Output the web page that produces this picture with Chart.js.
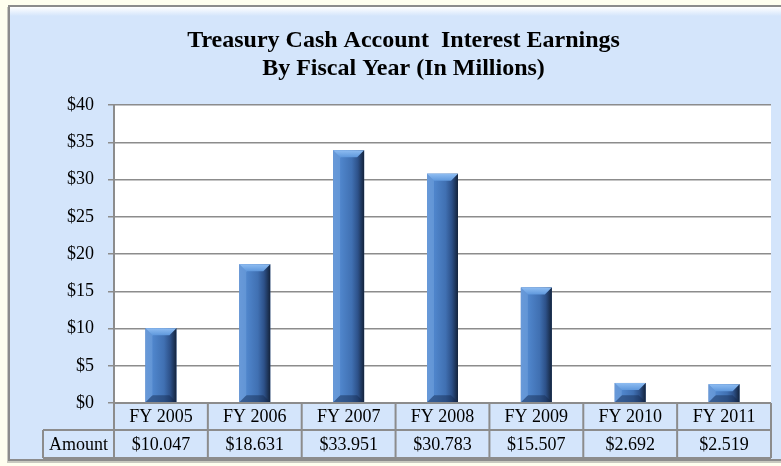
<!DOCTYPE html>
<html>
<head>
<meta charset="utf-8">
<script src="https://cdn.jsdelivr.net/npm/chart.js@4.4.0/dist/chart.umd.min.js"></script>
<style>
  html, body { margin: 0; padding: 0; background: #FFFFEF; }
  #wrap { width: 781px; height: 466px; }
</style>
</head>
<body>
<div id="wrap">
  <canvas id="myChart" width="781" height="466"></canvas>
</div>
<script>
// data
const years = ['FY 2005', 'FY 2006', 'FY 2007', 'FY 2008', 'FY 2009', 'FY 2010', 'FY 2011'];
const amounts = [10.047, 18.631, 33.951, 30.783, 15.507, 2.692, 2.519];
const rowLabel = 'Amount';
const titleLines = ['Treasury Cash Account  Interest Earnings', 'By Fiscal Year (In Millions)'];

const SERIF = "'Liberation Serif', 'Times New Roman', serif";
const FRAME_BLUE = '#D4E5FB';
const LINE_GRAY = '#8c8c8c';

// background, frame and white plot area
const framePlugin = {
    id: 'frame',
    beforeDraw(chart) {
        const ctx = chart.ctx;
        const a = chart.chartArea;
        ctx.save();
        ctx.fillStyle = '#FFFFEF';
        ctx.fillRect(0, 0, chart.width, chart.height);
        // soft shadow
        ctx.fillStyle = '#c9c9c0';
        ctx.fillRect(7, 7, chart.width, 456);
        // frame
        ctx.fillStyle = FRAME_BLUE;
        ctx.fillRect(9, 6, chart.width, 454);
        const hl = ctx.createLinearGradient(0, 7, 0, 16);
        hl.addColorStop(0, '#ffffff');
        hl.addColorStop(1, FRAME_BLUE);
        ctx.fillStyle = hl;
        ctx.fillRect(10, 7, chart.width, 9);
        ctx.strokeStyle = LINE_GRAY;
        ctx.lineWidth = 2;
        ctx.strokeRect(9, 6, chart.width + 10, 454);
        // plot area
        ctx.fillStyle = '#ffffff';
        ctx.fillRect(a.left, a.top, a.right - a.left, a.bottom - a.top);
        ctx.restore();
    }
};

// bar shading on top of the library's bars: horizontal gradient plus bevels
const barPlugin = {
    id: 'barShade',
    afterDatasetsDraw(chart) {
        const ctx = chart.ctx;
        ctx.save();
        chart.getDatasetMeta(0).data.forEach(el => {
            const l = el.x - el.width / 2, r = el.x + el.width / 2;
            const t = el.y, b = el.base;
            const bev = Math.min(7, (b - t) / 2);
            const g = ctx.createLinearGradient(l, 0, r, 0);
            g.addColorStop(0, '#5a8ccf');
            g.addColorStop(0.25, '#4f85cb');
            g.addColorStop(0.6, '#4070b2');
            g.addColorStop(0.8, '#2d5189');
            g.addColorStop(1, '#14233b');
            ctx.fillStyle = g;
            ctx.fillRect(l, t, r - l, b - t);
            // top bevel
            const tg = ctx.createLinearGradient(0, t, 0, t + bev);
            tg.addColorStop(0, '#8fbdf2');
            tg.addColorStop(1, '#5f98dc');
            ctx.fillStyle = tg;
            ctx.beginPath();
            ctx.moveTo(l, t);
            ctx.lineTo(r, t);
            ctx.lineTo(r - bev, t + bev);
            ctx.lineTo(l + bev, t + bev);
            ctx.closePath();
            ctx.fill();
            // bottom bevel
            ctx.fillStyle = 'rgba(20,40,75,0.45)';
            ctx.beginPath();
            ctx.moveTo(l, b);
            ctx.lineTo(r, b);
            ctx.lineTo(r - bev, b - bev);
            ctx.lineTo(l + bev, b - bev);
            ctx.closePath();
            ctx.fill();
            // left highlight
            ctx.fillStyle = 'rgba(140,185,240,0.3)';
            ctx.beginPath();
            ctx.moveTo(l, t);
            ctx.lineTo(l + bev, t + bev);
            ctx.lineTo(l + bev, b - bev);
            ctx.lineTo(l, b);
            ctx.closePath();
            ctx.fill();
        });
        ctx.restore();
    }
};

// data table under the plot
const tablePlugin = {
    id: 'dataTable',
    afterDraw(chart) {
        const ctx = chart.ctx;
        const a = chart.chartArea;
        const xs = chart.scales.x;
        const n = years.length;
        const w = (a.right - a.left) / n;
        const y0 = a.bottom, y1 = a.bottom + 27, y2 = a.bottom + 55;
        const labelLeft = 43;
        ctx.save();
        ctx.fillStyle = FRAME_BLUE;
        ctx.fillRect(a.left, y0, a.right - a.left, y1 - y0);
        ctx.fillRect(labelLeft, y1, a.right - labelLeft, y2 - y1);
        ctx.strokeStyle = LINE_GRAY;
        ctx.lineWidth = 2;
        ctx.beginPath();
        ctx.moveTo(a.left, y0); ctx.lineTo(a.right, y0);
        ctx.moveTo(labelLeft, y1); ctx.lineTo(a.right, y1);
        ctx.moveTo(labelLeft, y2); ctx.lineTo(a.right, y2);
        ctx.moveTo(labelLeft, y1); ctx.lineTo(labelLeft, y2);
        for (let i = 0; i <= n; i++) {
            const x = a.left + i * w;
            ctx.moveTo(x, y0); ctx.lineTo(x, y2);
        }
        ctx.stroke();
        ctx.fillStyle = '#000';
        ctx.font = '18px ' + SERIF;
        ctx.textAlign = 'center';
        ctx.textBaseline = 'middle';
        years.forEach((yr, i) => {
            const cx = xs.getPixelForValue(i);
            ctx.fillText(yr, cx, (y0 + y1) / 2 + 1);
            ctx.fillText('$' + amounts[i].toFixed(3), cx, (y1 + y2) / 2 + 1);
        });
        ctx.fillText(rowLabel, (labelLeft + a.left) / 2, (y1 + y2) / 2 + 1);
        ctx.restore();
    }
};

const ctx = document.getElementById('myChart').getContext('2d');
const chart = new Chart(ctx, {
    type: 'bar',
    data: {
        labels: years,
        datasets: [{
            label: rowLabel,
            data: amounts,
            backgroundColor: '#4a7cc0',
            borderWidth: 0,
            categoryPercentage: 1,
            barPercentage: 0.33
        }]
    },
    options: {
        responsive: false,
        animation: false,
        layout: { padding: { left: 36, right: 10, top: 10, bottom: 63 } },
        plugins: {
            legend: { display: false },
            tooltip: { enabled: false },
            title: {
                display: true,
                text: titleLines,
                color: '#000',
                font: { family: SERIF, size: 24, weight: 'bold', lineHeight: 1.17 },
                padding: { top: 17, bottom: 22 }
            }
        },
        scales: {
            x: { display: false },
            y: {
                min: 0,
                max: 40,
                ticks: {
                    stepSize: 5,
                    color: '#000',
                    font: { family: SERIF, size: 18 },
                    padding: 14,
                    callback: v => '$' + v
                },
                grid: { color: LINE_GRAY, lineWidth: 1.5, tickLength: 6 },
                border: { color: LINE_GRAY, width: 2 },
                afterFit(scale) { scale.width = 78; }
            }
        }
    },
    plugins: [framePlugin, barPlugin, tablePlugin]
});
</script>
</body>
</html>
